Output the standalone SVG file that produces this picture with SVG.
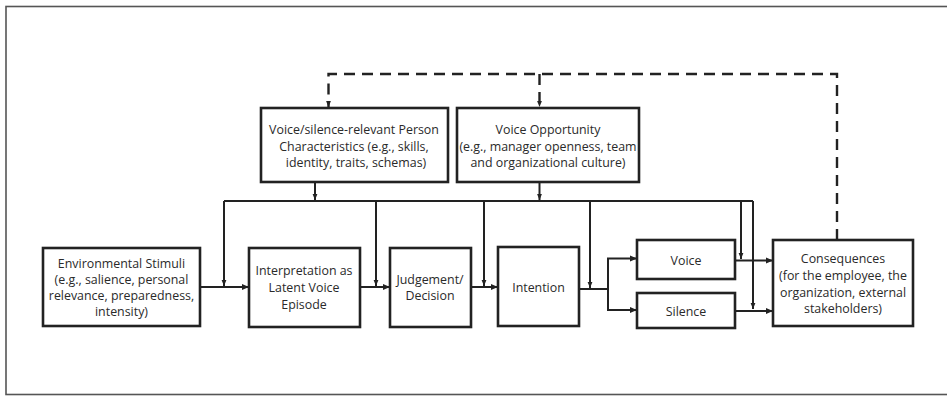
<svg xmlns="http://www.w3.org/2000/svg" width="947" height="396" viewBox="0 0 947 396">
<defs>
<marker id="ah" markerUnits="userSpaceOnUse" markerWidth="8" markerHeight="8" viewBox="0 0 8 8" refX="7" refY="4" orient="auto">
<path d="M0,1 L7,4 L0,7 Z" fill="#222"/>
</marker>
<marker id="ahs" markerUnits="userSpaceOnUse" markerWidth="7" markerHeight="7" viewBox="0 0 8 8" refX="7" refY="4" orient="auto">
<path d="M0,1.2 L7,4 L0,6.8 Z" fill="#222"/>
</marker>
</defs>
<style>
.box{fill:#fff;stroke:#222;stroke-width:2.6}
.t{font-family:"Open Sans","Liberation Sans",sans-serif;font-size:12.4px;fill:#2a2a2a;text-anchor:middle}
.c{fill:none;stroke:#222;stroke-width:2}
.d{fill:none;stroke:#222;stroke-width:2.4;stroke-dasharray:11 7}
.frame{fill:none;stroke:#555;stroke-width:1.6}
</style>
<rect width="947" height="396" fill="#fff"/>
<rect class="frame" x="6" y="6.5" width="960" height="388"/>

<g id="connectors">
<path class="c" d="M224,201 H753"/>
<path class="c" d="M315,182 V200" marker-end="url(#ahs)"/>
<path class="c" d="M539.5,182 V200" marker-end="url(#ahs)"/>
<path class="c" d="M224,201 V286" marker-end="url(#ahs)"/>
<path class="c" d="M376,201 V286" marker-end="url(#ahs)"/>
<path class="c" d="M484,201 V286" marker-end="url(#ahs)"/>
<path class="c" d="M590,201 V288" marker-end="url(#ahs)"/>
<path class="c" d="M741,201 V259" marker-end="url(#ahs)"/>
<path class="c" d="M753,201 V309" marker-end="url(#ahs)"/>
<path class="c" d="M200,287 H249" marker-end="url(#ah)"/>
<path class="c" d="M360,287 H390" marker-end="url(#ah)"/>
<path class="c" d="M471,287 H498" marker-end="url(#ah)"/>
<path class="c" d="M579,289 H608"/>
<path class="c" d="M608,289 V258.5 H637" marker-end="url(#ah)"/>
<path class="c" d="M608,289 V310 H637" marker-end="url(#ah)"/>
<path class="c" d="M735,260.5 H773" marker-end="url(#ah)"/>
<path class="c" d="M735,311 H773" marker-end="url(#ah)"/>
<path class="d" d="M837,240 V74 H328.5 V107" marker-end="url(#ahs)"/>
<path class="d" d="M539.5,74 V107" marker-end="url(#ahs)"/>
</g>

<g id="env">
<rect class="box" x="43" y="248" width="157" height="78"/>
<text class="t" x="121.5" y="268">Environmental Stimuli</text>
<text class="t" x="121.5" y="284">(e.g., salience, personal</text>
<text class="t" x="121.5" y="300">relevance, preparedness,</text>
<text class="t" x="121.5" y="316">intensity)</text>
</g>

<g id="person">
<rect class="box" x="261" y="108" width="187" height="74"/>
<text class="t" x="354" y="134">Voice/silence-relevant Person</text>
<text class="t" x="354" y="151">Characteristics (e.g., skills,</text>
<text class="t" x="356" y="167">identity, traits, schemas)</text>
</g>

<g id="opportunity">
<rect class="box" x="457" y="108" width="182" height="74"/>
<text class="t" x="548" y="134">Voice Opportunity</text>
<text class="t" x="548" y="151">(e.g., manager openness, team</text>
<text class="t" x="548" y="167">and organizational culture)</text>
</g>

<g id="interpretation">
<rect class="box" x="249" y="248" width="111" height="79"/>
<text class="t" x="304" y="275">Interpretation as</text>
<text class="t" x="304" y="292">Latent Voice</text>
<text class="t" x="304" y="309">Episode</text>
</g>

<g id="judgement">
<rect class="box" x="390" y="248" width="81" height="79"/>
<text class="t" x="430" y="284">Judgement/</text>
<text class="t" x="430" y="300">Decision</text>
</g>

<g id="intention">
<rect class="box" x="498" y="247" width="81" height="79"/>
<text class="t" x="538.5" y="292">Intention</text>
</g>

<g id="voice">
<rect class="box" x="637" y="240" width="98" height="39"/>
<text class="t" x="686" y="265">Voice</text>
</g>

<g id="silence">
<rect class="box" x="637" y="293" width="98" height="35"/>
<text class="t" x="686" y="316">Silence</text>
</g>

<g id="consequences">
<rect class="box" x="773" y="240" width="140" height="86"/>
<text class="t" x="843" y="263">Consequences</text>
<text class="t" x="843" y="280">(for the employee, the</text>
<text class="t" x="843" y="297">organization, external</text>
<text class="t" x="843" y="313">stakeholders)</text>
</g>
</svg>
